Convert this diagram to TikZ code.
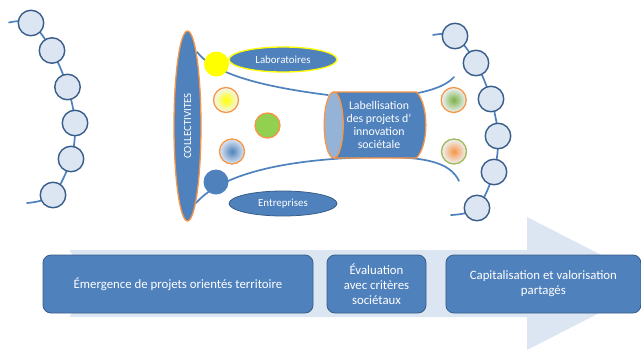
\documentclass[tikz,border=0pt]{standalone}
\usepackage{fontspec}
\setmainfont{Carlito}
\usetikzlibrary{backgrounds,shapes.geometric}
\definecolor{bluemain}{HTML}{4F81BD}
\definecolor{bluedark}{HTML}{385D8A}
\definecolor{bluepale}{HTML}{DCE6F2}
\definecolor{bluemid}{HTML}{95B3D7}
\definecolor{orangeline}{HTML}{F79646}
\definecolor{greenfill}{HTML}{92D050}
\definecolor{greenline}{HTML}{9BBB59}
\definecolor{yellowfill}{HTML}{FFFF00}
\tikzset{
  bead/.style={circle,draw=bluedark,line width=1.4pt,fill=bluepale,minimum size=25.5pt,inner sep=0pt},
  curveline/.style={draw=bluemain,line width=1.7pt,line cap=round},
  dot/.style={circle,minimum size=25pt,inner sep=0pt},
  ring/.style={dot,draw=orangeline,line width=1.3pt},
  pill/.style={ellipse,minimum width=108pt,minimum height=25pt,inner sep=0pt,fill=bluemain,text=white,font=\fontsize{10.9}{13}\selectfont},
  stage/.style={rounded corners=8pt,draw=bluedark,line width=.8pt,fill=bluemain,text=white,inner sep=0pt,align=center,minimum height=58pt,font=\fontsize{12.8}{15.2}\selectfont},
}
\begin{document}
\begin{tikzpicture}[x=1pt,y=-1pt]
\useasboundingbox (0,0) rectangle (641,349);
% big arrow
\begin{scope}
\clip (0,0) rectangle (641,349);
\fill[bluepale] (69.5,250) -- (527,250) -- (527,217) -- (657,283.5) -- (527,350) -- (527,317) -- (69.5,317) -- (90,283.5) -- cycle;
\end{scope}
% left chain
\node[bead] (l1) at (31,23) {};
\node[bead] (l2) at (52,50.5) {};
\node[bead] (l3) at (67.5,87) {};
\node[bead] (l4) at (75,123) {};
\node[bead] (l5) at (71,159) {};
\node[bead] (l6) at (53,195) {};
\coordinate (l0) at (9,22.5);
\coordinate (l7) at (27,203);
% right chain
\node[bead] (r1) at (455,36) {};
\node[bead] (r2) at (476,63) {};
\node[bead] (r3) at (491,99) {};
\node[bead] (r4) at (498,136) {};
\node[bead] (r5) at (494,172) {};
\node[bead] (r6) at (477,208) {};
\coordinate (r0) at (433,35);
\coordinate (r7) at (451,215);
% central ellipses and dots
\node[ellipse,fill=bluemain,draw=orangeline,line width=1.3pt,minimum width=27pt,minimum height=190pt,inner sep=0pt,text=white] (coll) at (187.5,126) {\rotatebox{90}{\fontsize{10.9}{13}\selectfont COLLECTIVITES}};
\node[dot,fill=yellowfill] (yd) at (216.5,64) {};
\node[dot,fill=bluemain] (bd) at (216,182) {};
\node[pill,draw=yellowfill,line width=1.3pt] (lab) at (283,59.5) {Laboratoires};
\node[pill,draw=bluedark,line width=.8pt] (ent) at (283,203.5) {Entreprises};
\node[ring,inner color=yellowfill,outer color=bluepale!40!white] (d1) at (226,100) {};
\node[ring,fill=greenfill] (d2) at (267.5,125.5) {};
\node[ring,inner color=bluemain,outer color=bluepale] (d3) at (232,151.5) {};
\node[ring,inner color=greenfill!85!black,outer color=bluepale!50!white] (d4) at (453.7,100) {};
\node[dot,draw=greenline,line width=1.3pt,inner color=orangeline,outer color=bluepale!50!white] (d5) at (454,151.5) {};
% funnel anchors
\coordinate (ta) at (197,52);
\coordinate (tb) at (328,95);
\coordinate (tc) at (418,93);
\coordinate (td) at (454,77);
\coordinate (ba) at (196,203);
\coordinate (bb) at (380,157);
\coordinate (bc) at (459,181);
\begin{scope}[on background layer]
\draw[curveline] plot[smooth,tension=.55] coordinates {(l0) (l1) (l2) (l3) (l4) (l5) (l6) (l7)};
\draw[curveline] plot[smooth,tension=.55] coordinates {(r0) (r1) (r2) (r3) (r4) (r5) (r6) (r7)};
\draw[curveline] (ta) .. controls (215,75) and (265,87) .. (tb);
\draw[curveline] (tc) .. controls (433,90) and (447,85) .. (td);
\draw[curveline] (ba) .. controls (225,170) and (300,158) .. (bb);
\draw[curveline] (bb) .. controls (425,157) and (450,162) .. (bc);
\end{scope}
% cylinder
\path[fill=bluemain,draw=orangeline,line width=1.3pt] (333.7,92) -- (416.5,92) .. controls (429,105) and (429,145) .. (416.5,158) -- (333.7,158);
\path[fill=bluemain] (333.7,92.7) rectangle (416,157.3);
\node[ellipse,minimum width=19pt,minimum height=66pt,inner sep=0pt,fill=bluemid,draw=orangeline,line width=1.3pt] (cyl) at (333.7,125) {};
\node[text=white,align=center,font=\fontsize{11.8}{13}\selectfont] (cyltext) at (379,125) {Labellisation\\des projets d’\\innovation\\sociétale};
% stages
\node[stage,minimum width=270pt] (s1) at (178,284) {Émergence de projets orientés territoire};
\node[stage,minimum width=99pt] (s2) at (376.5,284) {Évaluation\\avec critères\\sociétaux};
\node[stage,minimum width=195pt,anchor=west] (s3) at (445.5,284) {Capitalisation et valorisation\\partagés};
\end{tikzpicture}
\end{document}
